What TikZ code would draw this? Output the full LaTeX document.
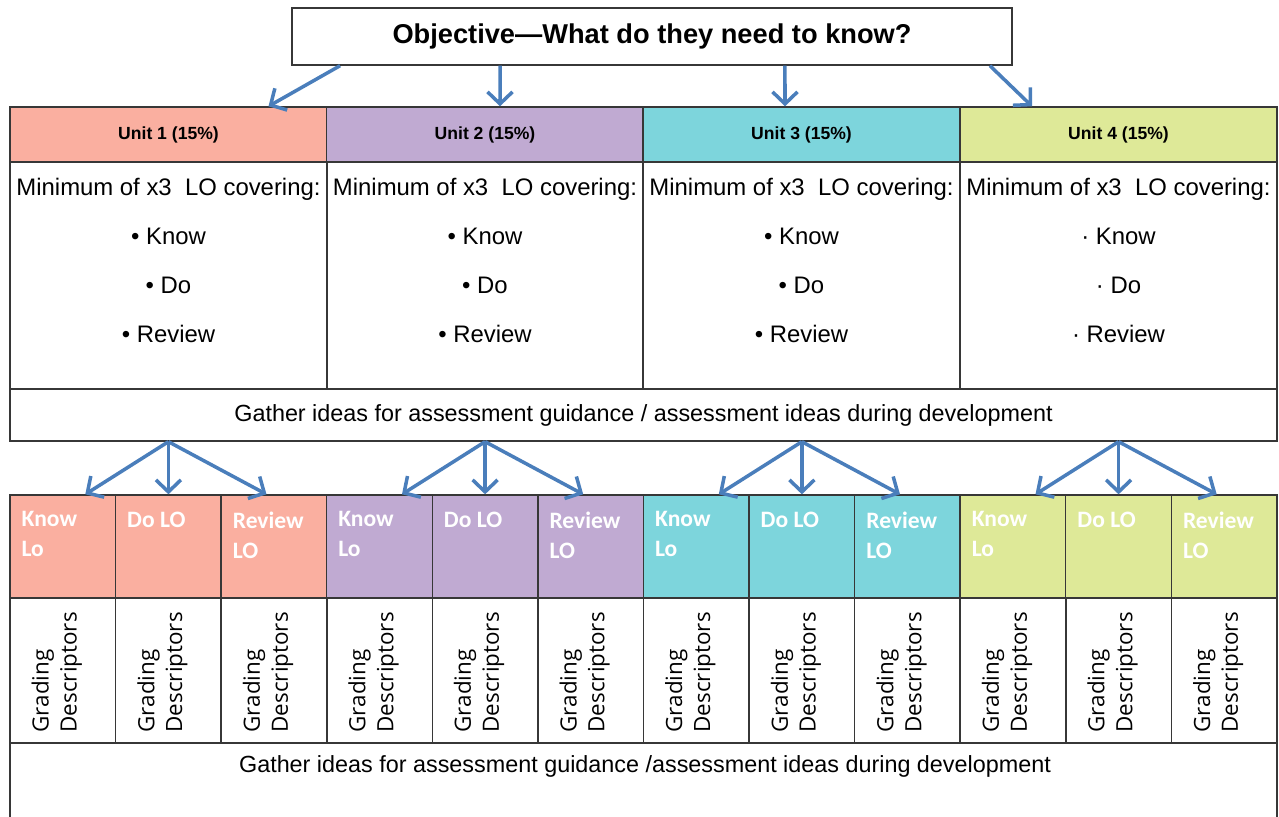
\documentclass[tikz,border=0pt]{standalone}
\usepackage{fontspec}
\setmainfont{Liberation Sans}
\newfontfamily\lofont{Carlito}
\newfontfamily\gradefont{Open Sans}
\usetikzlibrary{arrows.meta}

\definecolor{unitone}{RGB}{250,175,160}
\definecolor{unittwo}{RGB}{192,170,210}
\definecolor{unitthree}{RGB}{125,213,220}
\definecolor{unitfour}{RGB}{222,233,152}
\definecolor{arrowblue}{RGB}{74,126,187}
\definecolor{rulegray}{RGB}{55,55,55}

\begin{document}
\begin{tikzpicture}[x=0.02cm,y=-0.02cm,
  box/.style={draw=rulegray,line width=0.8pt,rectangle,inner sep=0pt},
  head/.style={box,minimum width=6.34cm,minimum height=1.1cm,font=\bfseries\fontsize{10}{12}\selectfont},
  body/.style={box,minimum width=6.34cm,minimum height=4.54cm},
  bodytext/.style={anchor=north,align=center,inner sep=0pt,font=\fontsize{13.6}{27.8}\selectfont},
  lo/.style={box,minimum width=2.113cm,minimum height=2.06cm},
  lotext/.style={anchor=north west,align=left,text=white,inner xsep=0.24cm,inner ysep=0.34cm,
    font=\lofont\bfseries\fontsize{13.4}{17}\selectfont},
  grade/.style={box,minimum width=2.113cm,minimum height=2.9cm},
  gradetext/.style={rotate=90,anchor=west,align=left,inner sep=0pt,
    font=\gradefont\fontsize{12.75}{15.9}\selectfont},
  wide/.style={box,minimum width=25.34cm,font=\fontsize{13.3}{15}\selectfont},
  arr/.style={draw=arrowblue,line width=2pt,-{Straight Barb[length=2.4mm,width=5mm]}}]

  \useasboundingbox (0,0) rectangle (1279,816);

  % objective
  \node[box,minimum width=14.4cm,minimum height=1.14cm,font=\bfseries\fontsize{15.5}{18}\selectfont]
    (obj) at (652,36.5) {Objective—What do they need to know?};

  % unit headers
  \node[head,fill=unitone] (u1h) at (168.5,134.5) {Unit 1 (15\%)};
  \node[head,fill=unittwo] (u2h) at (485,134.5) {Unit 2 (15\%)};
  \node[head,fill=unitthree] (u3h) at (801.5,134.5) {Unit 3 (15\%)};
  \node[head,fill=unitfour] (u4h) at (1118.5,134.5) {Unit 4 (15\%)};

  % unit bodies
  \node[body] (u1b) at (168.5,275.5) {};
  \node[body] (u2b) at (485,275.5) {};
  \node[body] (u3b) at (801.5,275.5) {};
  \node[body] (u4b) at (1118.5,275.5) {};
  \node[bodytext] (u1t) at (168.5,178) {Minimum of x3~~LO covering:\\• Know\\• Do\\• Review};
  \node[bodytext] (u2t) at (485,178) {Minimum of x3~~LO covering:\\• Know\\• Do\\• Review};
  \node[bodytext] (u3t) at (801.5,178) {Minimum of x3~~LO covering:\\• Know\\• Do\\• Review};
  \node[bodytext] (u4t) at (1118.5,178) {Minimum of x3~~LO covering:\\· Know\\· Do\\· Review};

  \node[wide,minimum height=1.04cm] (gath) at (643.5,415)
    {Gather ideas for assessment guidance / assessment ideas during development};

  % learning outcome cells
  \node[lo,fill=unitone] (k1) at (62.8,546.5) {};
  \node[lo,fill=unitone] (d1) at (168.4,546.5) {};
  \node[lo,fill=unitone] (r1) at (274.0,546.5) {};
  \node[lo,fill=unittwo] (k2) at (379.5,546.5) {};
  \node[lo,fill=unittwo] (d2) at (485.1,546.5) {};
  \node[lo,fill=unittwo] (r2) at (590.7,546.5) {};
  \node[lo,fill=unitthree] (k3) at (696.3,546.5) {};
  \node[lo,fill=unitthree] (d3) at (801.9,546.5) {};
  \node[lo,fill=unitthree] (r3) at (907.5,546.5) {};
  \node[lo,fill=unitfour] (k4) at (1013.0,546.5) {};
  \node[lo,fill=unitfour] (d4) at (1118.6,546.5) {};
  \node[lo,fill=unitfour] (r4) at (1224.2,546.5) {};

  \node[lotext] (k1t) at (k1.north west) {Know\\Lo};
  \node[lotext] (d1t) at (d1.north west) {Do LO};
  \node[lotext] (r1t) at (r1.north west) {Review\\LO};
  \node[lotext] (k2t) at (k2.north west) {Know\\Lo};
  \node[lotext] (d2t) at (d2.north west) {Do LO};
  \node[lotext] (r2t) at (r2.north west) {Review\\LO};
  \node[lotext] (k3t) at (k3.north west) {Know\\Lo};
  \node[lotext] (d3t) at (d3.north west) {Do LO};
  \node[lotext] (r3t) at (r3.north west) {Review\\LO};
  \node[lotext] (k4t) at (k4.north west) {Know\\Lo};
  \node[lotext] (d4t) at (d4.north west) {Do LO};
  \node[lotext] (r4t) at (r4.north west) {Review\\LO};

  % grading descriptors
  \node[grade] (g1) at (62.8,670.5) {};
  \node[grade] (g2) at (168.4,670.5) {};
  \node[grade] (g3) at (274.0,670.5) {};
  \node[grade] (g4) at (379.5,670.5) {};
  \node[grade] (g5) at (485.1,670.5) {};
  \node[grade] (g6) at (590.7,670.5) {};
  \node[grade] (g7) at (696.3,670.5) {};
  \node[grade] (g8) at (801.9,670.5) {};
  \node[grade] (g9) at (907.5,670.5) {};
  \node[grade] (g10) at (1013.0,670.5) {};
  \node[grade] (g11) at (1118.6,670.5) {};
  \node[grade] (g12) at (1224.2,670.5) {};

  \node[gradetext] (g1t) at ([xshift=-0.12cm,yshift=0.22cm]g1.south) {Grading\\Descriptors};
  \node[gradetext] (g2t) at ([xshift=-0.12cm,yshift=0.22cm]g2.south) {Grading\\Descriptors};
  \node[gradetext] (g3t) at ([xshift=-0.12cm,yshift=0.22cm]g3.south) {Grading\\Descriptors};
  \node[gradetext] (g4t) at ([xshift=-0.12cm,yshift=0.22cm]g4.south) {Grading\\Descriptors};
  \node[gradetext] (g5t) at ([xshift=-0.12cm,yshift=0.22cm]g5.south) {Grading\\Descriptors};
  \node[gradetext] (g6t) at ([xshift=-0.12cm,yshift=0.22cm]g6.south) {Grading\\Descriptors};
  \node[gradetext] (g7t) at ([xshift=-0.12cm,yshift=0.22cm]g7.south) {Grading\\Descriptors};
  \node[gradetext] (g8t) at ([xshift=-0.12cm,yshift=0.22cm]g8.south) {Grading\\Descriptors};
  \node[gradetext] (g9t) at ([xshift=-0.12cm,yshift=0.22cm]g9.south) {Grading\\Descriptors};
  \node[gradetext] (g10t) at ([xshift=-0.12cm,yshift=0.22cm]g10.south) {Grading\\Descriptors};
  \node[gradetext] (g11t) at ([xshift=-0.12cm,yshift=0.22cm]g11.south) {Grading\\Descriptors};
  \node[gradetext] (g12t) at ([xshift=-0.12cm,yshift=0.22cm]g12.south) {Grading\\Descriptors};

  % bottom box, runs off the page
  \node[wide,minimum height=2.4cm] (foot) at (643.5,803) {};
  \node[inner sep=0pt,font=\fontsize{13.3}{15}\selectfont] (foott) at (645,766)
    {Gather ideas for assessment guidance /assessment ideas during development};

  % arrows
  \draw[arr] ([xshift=-6.24cm]obj.south) -- ([xshift=2cm]u1h.north);
  \draw[arr] ([xshift=-3.04cm]obj.south) -- ([xshift=0.3cm]u2h.north);
  \draw[arr] ([xshift=2.66cm]obj.south) -- ([xshift=-0.33cm]u3h.north);
  \draw[arr] ([xshift=6.76cm]obj.south) -- ([xshift=-1.73cm]u4h.north);

  \draw[arr] (gath.south -| d1.north) -- ([xshift=0.45cm]k1.north);
  \draw[arr] (gath.south -| d1.north) -- (d1.north);
  \draw[arr] (gath.south -| d1.north) -- ([xshift=-0.15cm]r1.north);
  \draw[arr] (gath.south -| d2.north) -- ([xshift=0.45cm]k2.north);
  \draw[arr] (gath.south -| d2.north) -- (d2.north);
  \draw[arr] (gath.south -| d2.north) -- ([xshift=-0.15cm]r2.north);
  \draw[arr] (gath.south -| d3.north) -- ([xshift=0.45cm]k3.north);
  \draw[arr] (gath.south -| d3.north) -- (d3.north);
  \draw[arr] (gath.south -| d3.north) -- ([xshift=-0.15cm]r3.north);
  \draw[arr] (gath.south -| d4.north) -- ([xshift=0.45cm]k4.north);
  \draw[arr] (gath.south -| d4.north) -- (d4.north);
  \draw[arr] (gath.south -| d4.north) -- ([xshift=-0.15cm]r4.north);
\end{tikzpicture}
\end{document}
